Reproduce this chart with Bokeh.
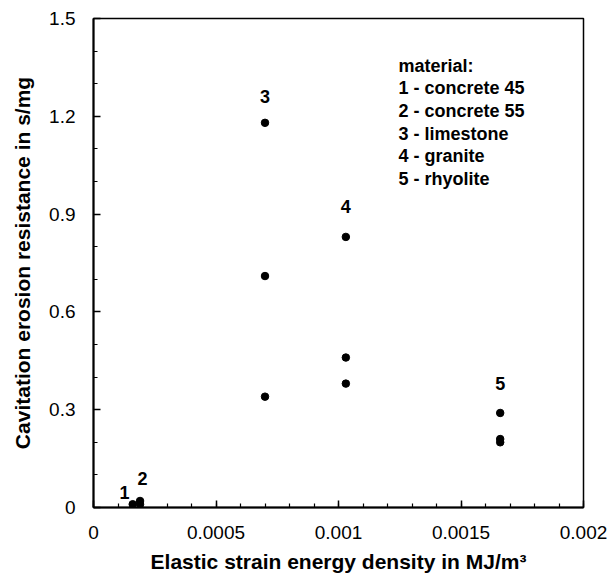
from bokeh.plotting import figure
from bokeh.models import FixedTicker, Label, ColumnDataSource
from bokeh.core.properties import value
from bokeh.embed import file_html
from bokeh.resources import INLINE

# data: elastic strain energy density (MJ/m^3) vs cavitation erosion resistance (s/mg)
strain_energy = [0.00016,
                 0.00019, 0.00019,
                 0.00070, 0.00070, 0.00070,
                 0.00103, 0.00103, 0.00103,
                 0.00166, 0.00166, 0.00166]
erosion_resistance = [0.01,
                      0.01, 0.02,
                      0.34, 0.71, 1.18,
                      0.38, 0.46, 0.83,
                      0.20, 0.21, 0.29]

material_ids = ["1", "2", "3", "4", "5"]
material_label_x = [0.000127, 0.000200, 0.00070, 0.00103, 0.00166]
material_label_y = [0.046, 0.089, 1.262, 0.923, 0.381]

legend_lines = ["material:", "1 - concrete 45", "2 - concrete 55",
                "3 - limestone", "4 - granite", "5 - rhyolite"]

x_ticks = [0, 0.0005, 0.001, 0.0015, 0.002]
x_tick_labels = ["0", "0.0005", "0.001", "0.0015", "0.002"]
y_ticks = [0, 0.3, 0.6, 0.9, 1.2, 1.5]
y_tick_labels = ["0", "0.3", "0.6", "0.9", "1.2", "1.5"]

FONT = "Liberation Sans"

p = figure(width=609, height=578, x_range=(0, 0.002), y_range=(0, 1.5),
           output_backend="svg", toolbar_location=None,
           min_border_left=93, min_border_right=26,
           min_border_top=18, min_border_bottom=71)

p.xgrid.visible = False
p.ygrid.visible = False
p.outline_line_color = "black"
p.outline_line_width = 1.5
p.background_fill_color = "white"
p.border_fill_color = "white"

p.xaxis.ticker = FixedTicker(ticks=x_ticks,
                             minor_ticks=[i * 0.0001 for i in range(21)])
p.yaxis.ticker = FixedTicker(ticks=y_ticks,
                             minor_ticks=[i * 0.1 for i in range(16)])
p.xaxis.major_label_overrides = {t: l for t, l in zip(x_ticks, x_tick_labels)}
p.yaxis.major_label_overrides = {t: l for t, l in zip(y_ticks, y_tick_labels)}

for ax in (p.xaxis[0], p.yaxis[0]):
    ax.axis_line_color = "black"
    ax.axis_line_width = 2
    ax.major_tick_line_color = "black"
    ax.minor_tick_line_color = "black"
    ax.major_tick_line_width = 1.5
    ax.minor_tick_line_width = 1.2
    ax.major_tick_in = 7
    ax.major_tick_out = 0
    ax.minor_tick_in = 4
    ax.minor_tick_out = 0
    ax.major_label_text_font = FONT
    ax.major_label_text_font_size = "19px"
    ax.major_label_text_color = "black"
    ax.axis_label_text_font = FONT
    ax.axis_label_text_font_size = "21px"
    ax.axis_label_text_font_style = "bold"
    ax.axis_label_text_color = "black"

p.xaxis.axis_label = "Elastic strain energy density in MJ/m³"
p.yaxis.axis_label = "Cavitation erosion resistance in s/mg"
p.xaxis.major_label_standoff = 18
p.yaxis.major_label_standoff = 18
p.xaxis.axis_label_standoff = 8
p.yaxis.axis_label_standoff = 12

src = ColumnDataSource(data=dict(x=strain_energy, y=erosion_resistance))
p.scatter("x", "y", source=src, size=7.5, color="black")

lab = ColumnDataSource(data=dict(x=material_label_x, y=material_label_y,
                                 t=material_ids))
p.text("x", "y", text="t", source=lab, text_font=value(FONT),
       text_font_size="18px", text_font_style="bold", text_color="black",
       text_align="center", text_baseline="middle")

for i, line in enumerate(legend_lines):
    p.add_layout(Label(x=305, y=442 - i * 22.7, x_units="screen",
                       y_units="screen", text=line, text_font=FONT,
                       text_font_size="18px", text_font_style="bold",
                       text_color="black", text_baseline="middle",
                       text_align="left"))

open("out.html", "w").write(file_html(p, INLINE))
